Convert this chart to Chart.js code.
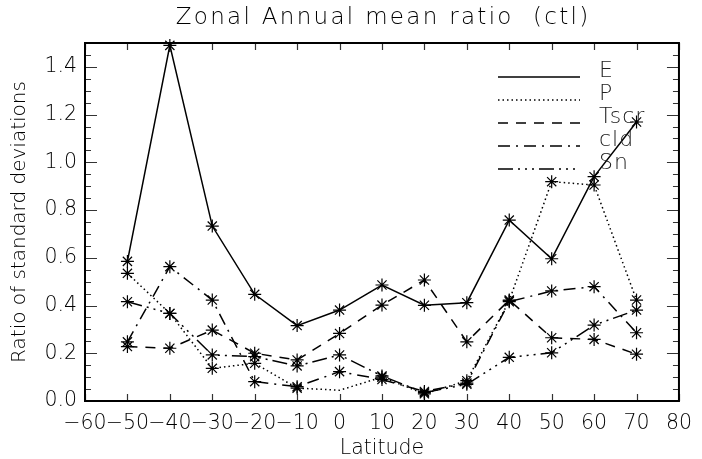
<!DOCTYPE html>
<html>
<head>
<meta charset="utf-8">
<script src="https://cdn.jsdelivr.net/npm/chart.js@4"></script>
<style>
  html,body{margin:0;padding:0;background:#fff;}
  canvas{display:block;}
</style>
</head>
<body>
<canvas id="ratioChart" width="702" height="459"></canvas>
<script>
// latitudes of the zonal bands
const lats = [-50, -40, -30, -20, -10, 0, 10, 20, 30, 40, 50, 60, 70];

// ratio of standard deviations per field
const eVals    = [0.585, 1.49, 0.733, 0.447, 0.316, 0.381, 0.486, 0.401, 0.412, 0.758, 0.596, 0.940, 1.169];
const pVals    = [0.535, 0.367, 0.137, 0.158, 0.054, 0.045, 0.100, 0.030, 0.085, 0.420, 0.919, 0.905, 0.423];
const tscrVals = [0.228, 0.221, 0.297, 0.200, 0.172, 0.283, 0.402, 0.507, 0.248, 0.423, 0.265, 0.258, 0.196];
const cldVals  = [0.248, 0.563, 0.423, 0.081, 0.060, 0.123, 0.090, 0.040, 0.075, 0.416, 0.461, 0.479, 0.286];
const snVals   = [0.416, 0.367, 0.193, 0.186, 0.147, 0.193, 0.105, 0.035, 0.070, 0.183, 0.202, 0.318, 0.381];

// P has no symbol at the equator
const pMarks = [1, 1, 1, 1, 1, 0, 1, 1, 1, 1, 1, 1, 1];

const xTicks = [-60, -50, -40, -30, -20, -10, 0, 10, 20, 30, 40, 50, 60, 70, 80];
const yTicks = [0.0, 0.2, 0.4, 0.6, 0.8, 1.0, 1.2, 1.4];
const yMinorStep = 0.05;

const chartTitle = 'Zonal Annual mean ratio  (ctl)';

const FONT = "'DejaVu Sans', sans-serif";
const INK = '#000';
const STAR = 6.5;

function series(label, vals, dash, marks){
  return {
    label: label,
    data: lats.map((x, i) => ({x: x, y: vals[i]})),
    borderColor: '#000',
    borderWidth: 1.5,
    borderDash: dash,
    pointStyle: 'star',
    pointRadius: marks ? marks.map(m => m ? STAR : 0) : STAR,
    pointBorderColor: '#000',
    pointBorderWidth: 1.2,
    pointBackgroundColor: '#000',
    tension: 0,
    fill: false,
    clip: false
  };
}

// box frame with inward ticks on all four sides
const framePlugin = {
  id: 'frame',
  beforeDatasetsDraw(chart){
    const {ctx, chartArea: a, scales: {x, y}} = chart;
    ctx.save();
    ctx.strokeStyle = '#333';
    ctx.lineWidth = 1.2;
    ctx.beginPath();
    xTicks.forEach(v => {
      const px = Math.round(x.getPixelForValue(v)) + 0.5;
      ctx.moveTo(px, a.bottom); ctx.lineTo(px, a.bottom - 7);
      ctx.moveTo(px, a.top); ctx.lineTo(px, a.top + 7);
    });
    const nMinor = Math.round((y.max - y.min) / yMinorStep);
    for (let k = 0; k <= nMinor; k++){
      const v = y.min + k * yMinorStep;
      const major = yTicks.some(t => Math.abs(t - v) < 1e-6);
      const len = major ? 12 : 6;
      const py = Math.round(y.getPixelForValue(v)) + 0.5;
      ctx.moveTo(a.left, py); ctx.lineTo(a.left + len, py);
      ctx.moveTo(a.right, py); ctx.lineTo(a.right - len, py);
    }
    ctx.stroke();
    ctx.strokeStyle = '#000';
    ctx.lineWidth = 2;
    ctx.strokeRect(a.left, a.top, a.right - a.left, a.bottom - a.top);
    ctx.restore();
  }
};

// widely spaced heading centred over the plot box
const headingPlugin = {
  id: 'heading',
  afterDraw(chart, args, opts){
    const {ctx, chartArea: a} = chart;
    ctx.save();
    ctx.font = opts.font;
    ctx.letterSpacing = opts.spacing + 'px';
    ctx.fillStyle = INK;
    ctx.textAlign = 'center';
    ctx.textBaseline = 'middle';
    ctx.fillText(opts.text, (a.left + a.right) / 2 + opts.spacing / 2, opts.y);
    ctx.restore();
  }
};

// line-style key in the upper right
const keyPlugin = {
  id: 'key',
  afterDatasetsDraw(chart, args, opts){
    const {ctx} = chart;
    ctx.save();
    chart.data.datasets.forEach((ds, i) => {
      const ly = opts.y + i * opts.rowGap;
      ctx.strokeStyle = '#000';
      ctx.lineWidth = ds.borderWidth;
      ctx.setLineDash(ds.borderDash || []);
      ctx.beginPath();
      ctx.moveTo(opts.x0, ly);
      ctx.lineTo(opts.x1, ly);
      ctx.stroke();
      ctx.setLineDash([]);
      ctx.fillStyle = '#222';
      ctx.font = opts.font;
      ctx.letterSpacing = '1px';
      ctx.textBaseline = 'middle';
      ctx.textAlign = 'left';
      ctx.fillText(ds.label, opts.textX, ly - 6);
    });
    ctx.restore();
  }
};

const minus = v => v < 0 ? '\u2212' + Math.abs(v) : String(v);

new Chart(document.getElementById('ratioChart'), {
  type: 'line',
  data: {
    datasets: [
      series('E', eVals, []),
      series('P', pVals, [1.5, 3], pMarks),
      series('Tscr', tscrVals, [10, 8]),
      series('cld', cldVals, [12, 6, 2, 6]),
      series('Sn', snVals, [15, 5, 2, 5, 2, 5, 2, 5])
    ]
  },
  options: {
    responsive: false,
    devicePixelRatio: 1,
    animation: false,
    layout: {padding: {left: 0, right: 15, top: 43, bottom: 0}},
    plugins: {
      legend: {display: false},
      tooltip: {enabled: false},
      title: {display: false},
      heading: {text: chartTitle, y: 18, spacing: 2.3,
                font: "200 23px 'DejaVu Sans', sans-serif"},
      key: {x0: 498, x1: 580, textX: 599, y: 77, rowGap: 23,
            font: "200 22px 'DejaVu Sans', sans-serif"}
    },
    scales: {
      x: {
        type: 'linear',
        min: -60,
        max: 80,
        afterBuildTicks: s => { s.ticks = xTicks.map(v => ({value: v})); },
        afterFit: s => { s.height = 58; },
        grid: {display: false, drawTicks: false},
        border: {display: false},
        ticks: {
          callback: minus,
          autoSkip: false,
          maxRotation: 0,
          minRotation: 0,
          padding: 10,
          color: INK,
          font: {family: FONT, size: 20.5, weight: '200', lineHeight: 1.2}
        },
        title: {
          display: true,
          text: 'Latitude',
          color: INK,
          padding: {top: 0, bottom: 0},
          font: {family: FONT, size: 20.5, weight: '200', lineHeight: 1.0}
        }
      },
      y: {
        type: 'linear',
        min: 0,
        max: 1.5,
        afterBuildTicks: s => { s.ticks = yTicks.map(v => ({value: v})); },
        afterFit: s => { s.width = 85; },
        grid: {display: false, drawTicks: false},
        border: {display: false},
        ticks: {
          callback: v => v.toFixed(1),
          padding: 8,
          color: INK,
          font: {family: FONT, size: 20.5, weight: '200', lineHeight: 1.2}
        },
        title: {
          display: true,
          text: 'Ratio of standard deviations',
          color: INK,
          padding: {top: 8, bottom: 0},
          font: {family: FONT, size: 20, weight: '200', lineHeight: 1.2}
        }
      }
    }
  },
  plugins: [framePlugin, keyPlugin, headingPlugin]
});
</script>
</body>
</html>
